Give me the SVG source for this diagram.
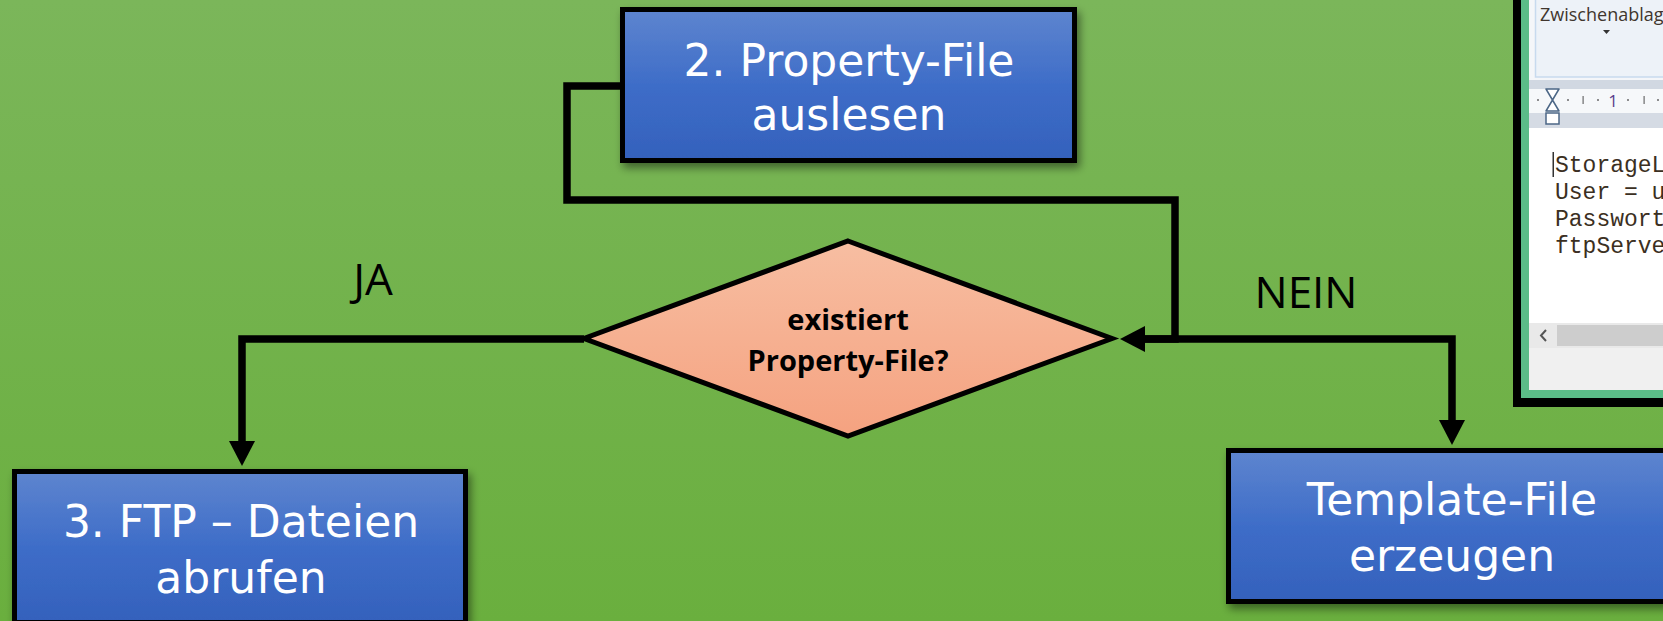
<svg xmlns="http://www.w3.org/2000/svg" width="1663" height="621" viewBox="0 0 1663 621">
  <defs>
    <linearGradient id="bg" x1="0" y1="0" x2="0" y2="1">
      <stop offset="0" stop-color="#7BB65A"/>
      <stop offset="1" stop-color="#6AAF3E"/>
    </linearGradient>
    <linearGradient id="boxFill" x1="0" y1="0" x2="0" y2="1">
      <stop offset="0" stop-color="#5E85CF"/>
      <stop offset="0.5" stop-color="#3E6DC8"/>
      <stop offset="1" stop-color="#3461BC"/>
    </linearGradient>
    <linearGradient id="diaFill" x1="0" y1="0" x2="0" y2="1">
      <stop offset="0" stop-color="#F7BEA2"/>
      <stop offset="1" stop-color="#F5A280"/>
    </linearGradient>
    <filter id="shadow" x="-10%" y="-20%" width="120%" height="150%">
      <feDropShadow dx="3" dy="5" stdDeviation="4" flood-color="#000" flood-opacity="0.45"/>
    </filter>
    <marker id="arrow" markerUnits="userSpaceOnUse" markerWidth="26" markerHeight="26" viewBox="0 0 25 26" refX="0" refY="13" orient="auto">
      <path d="M0,0 L25,13 L0,26 z" fill="#000"/>
    </marker>
    <clipPath id="shotClip">
      <rect x="1529" y="0" width="134" height="390"/>
    </clipPath>
  </defs>
  <style>
    .box { fill: url(#boxFill); stroke: #000; stroke-width: 5; filter: url(#shadow); }
    .boxText { font-family: "DejaVu Sans", "Noto Sans", sans-serif; font-size: 44px; fill: #FFFFFF; text-anchor: middle; }
    .diaText { font-family: "Open Sans", "Noto Sans", sans-serif; font-size: 29px; font-weight: bold; fill: #000; text-anchor: middle; }
    .label { font-family: "Open Sans", "Noto Sans", sans-serif; font-size: 44px; fill: #000; text-anchor: middle; }
    .conn { fill: none; stroke: #000; stroke-width: 7.5; stroke-linejoin: miter; stroke-linecap: butt; }
    .mono { font-family: "Liberation Mono", "Courier New", monospace; font-size: 23px; fill: #3B2F22; }
  </style>

  <rect x="0" y="0" width="1663" height="621" fill="url(#bg)"/>

  <!-- Screenshot panel (top right) -->
  <g id="screenshot">
    <rect x="1513" y="-10" width="160" height="417" fill="#000"/>
    <rect x="1521" y="-10" width="150" height="408" fill="#5BBC88"/>
    <g clip-path="url(#shotClip)">
      <rect x="1529" y="0" width="134" height="80" fill="#F4F6F9"/>
      <rect x="1535.5" y="-5" width="140" height="82" fill="#EDF2F8" stroke="#C7DAEE" stroke-width="1.5"/>
      <text x="1540" y="21" font-family="'Open Sans', 'Noto Sans', sans-serif" font-size="18px" fill="#40362E">Zwischenablag</text>
      <path d="M1603,30 L1610,30 L1606.5,34 z" fill="#333"/>
      <rect x="1529" y="80" width="134" height="9" fill="#D1D8E2"/>
      <rect x="1529" y="89" width="134" height="24" fill="#F6F8FA"/>
      <rect x="1529" y="113" width="134" height="15" fill="#D5DBE4"/>
      <g fill="#6A6A6A">
        <circle cx="1538" cy="100" r="1"/>
        <circle cx="1568" cy="100" r="1"/>
        <circle cx="1598" cy="100" r="1"/>
        <circle cx="1628" cy="100" r="1"/>
        <circle cx="1658" cy="100" r="1"/>
        <rect x="1582.5" y="96" width="1.2" height="8"/>
        <rect x="1643.5" y="96" width="1.2" height="8"/>
      </g>
      <text x="1613" y="107" font-family="'Open Sans', 'Noto Sans', sans-serif" font-size="17px" fill="#5A3D8C" text-anchor="middle">1</text>
      <path d="M1546,89 L1559,89 L1552.5,100 L1559,111 L1546,111 L1552.5,100 z" fill="#FFFFFF" stroke="#4C6786" stroke-width="1.5" stroke-linejoin="round"/>
      <rect x="1546" y="113" width="13" height="11" fill="#FFFFFF" stroke="#4C6786" stroke-width="1.5"/>
      <rect x="1529" y="128" width="134" height="195" fill="#FFFFFF"/>
      <rect x="1552.5" y="152" width="1.5" height="25" fill="#333"/>
      <text class="mono" x="1555" y="172">StorageL</text>
      <text class="mono" x="1555" y="199">User = u</text>
      <text class="mono" x="1555" y="226">Passwort</text>
      <text class="mono" x="1555" y="253">ftpServe</text>
      <rect x="1529" y="323" width="134" height="25" fill="#E9E9E9"/>
      <rect x="1557" y="325" width="110" height="21" fill="#CDCDCD"/>
      <path d="M1546,330 L1541,335.5 L1546,341" fill="none" stroke="#555" stroke-width="2"/>
      <rect x="1529" y="348" width="134" height="42" fill="#F0F0F0"/>
    </g>
  </g>

  <!-- Connectors -->
  <g id="connectors">
    <path class="conn" d="M620,86 H567 V200 H1175 V339 H1145" marker-end="url(#arrow)"/>
    <path class="conn" d="M1140,339 H1452 V420" marker-end="url(#arrow)"/>
    <path class="conn" d="M584,339 H242 V441" marker-end="url(#arrow)"/>
  </g>

  <text class="label" x="373" y="295">JA</text>
  <text class="label" x="1306" y="308">NEIN</text>

  <!-- Node: 2. Property-File auslesen -->
  <g id="node-property">
    <rect class="box" x="622.5" y="9.5" width="452" height="151"/>
    <text class="boxText" x="849" y="76">2. Property-File</text>
    <text class="boxText" x="849" y="130">auslesen</text>
  </g>

  <!-- Node: decision -->
  <g id="node-decision">
    <polygon points="848,241 1112,338.5 848,436 584,338.5" fill="url(#diaFill)" stroke="#000" stroke-width="5" stroke-linejoin="miter"/>
    <text class="diaText" x="848" y="330">existiert</text>
    <text class="diaText" x="848" y="371">Property-File?</text>
  </g>

  <!-- Node: 3. FTP - Dateien abrufen -->
  <g id="node-ftp">
    <rect class="box" x="14.5" y="471.5" width="451" height="151"/>
    <text class="boxText" x="241" y="537">3. FTP – Dateien</text>
    <text class="boxText" x="241" y="593">abrufen</text>
  </g>

  <!-- Node: Template-File erzeugen -->
  <g id="node-template">
    <rect class="box" x="1228.5" y="450.5" width="447" height="151"/>
    <text class="boxText" x="1452" y="515">Template-File</text>
    <text class="boxText" x="1452" y="571">erzeugen</text>
  </g>
</svg>
